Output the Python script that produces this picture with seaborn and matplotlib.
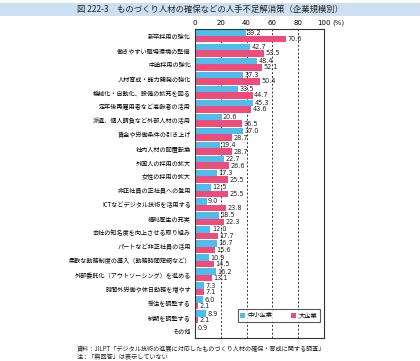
import matplotlib
matplotlib.use("Agg")
import matplotlib.pyplot as plt
import seaborn as sns
import pandas as pd
import numpy as np
from matplotlib.patches import Rectangle, Patch

categories = [
    "新卒採用の強化",
    "働きやすい職場環境の整備",
    "中途採用の強化",
    "人材育成・能力開発の強化",
    "機械化・自動化、設備の拡充を図る",
    "定年後再雇用者など高齢者の活用",
    "派遣、個人請負など外部人材の活用",
    "賃金や労働条件の引き上げ",
    "社内人材の配置転換",
    "外国人の採用の拡大",
    "女性の採用の拡大",
    "非正社員の正社員への登用",
    "ICTなどデジタル技術を活用する",
    "福利厚生の充実",
    "会社の知名度を向上させる取り組み",
    "パートなど非正社員の活用",
    "柔軟な勤務制度の導入（勤務時間短縮など）",
    "外部委託化（アウトソーシング）を進める",
    "時間外労働や休日勤務を増やす",
    "受注を調整する",
    "納期を調整する",
    "その他",
]
small = [39.2, 42.7, 48.4, 37.3, 33.5, 45.3, 20.6, 37.0, 19.4, 22.7, 17.3, 12.5,
         9.0, 18.5, 12.0, 16.7, 10.9, 16.2, 7.3, 6.0, 8.9, 0.9]
large = [70.6, 53.5, 52.1, 50.4, 44.7, 43.6, 36.5, 28.7, 28.7, 26.6, 25.5, 25.5,
         23.8, 22.3, 17.7, 15.6, 14.5, 13.1, 7.1, 2.1, 2.1, np.nan]
series = ["中小企業", "大企業"]
ticks = [0, 20, 40, 60, 80, 100]

df = pd.DataFrame({
    "cat": categories * 2,
    "val": small + large,
    "size": [series[0]] * len(categories) + [series[1]] * len(categories),
})

plt.rcParams['font.family'] = ['Noto Sans CJK JP', 'DejaVu Sans']
fig = plt.figure(figsize=(4.2, 3.61), dpi=100)
ax = fig.add_axes([195 / 420, 1 - 338 / 361, 129 / 420, 309 / 361])

blue = "#4dbde9"
pink = "#ef4b7b"
sns.barplot(data=df, y="cat", x="val", hue="size", order=categories,
            hue_order=series, palette=[blue, pink], width=0.92,
            orient="h", ax=ax, saturation=1, legend=False)

for cont in ax.containers:
    for bar in cont:
        if bar is None:
            continue
        w = bar.get_width()
        if np.isnan(w):
            continue
        ax.annotate(f"{w:.1f}", (w, bar.get_y() + bar.get_height() / 2),
                    xytext=(1, 0), textcoords="offset points",
                    ha="left", va="center", fontsize=4.7, color="#222222",
                    family="DejaVu Sans")

ax.set_xlim(0, 100)
ax.set_xticks(ticks)
ax.set_xticklabels([str(t) for t in ticks])
ax.xaxis.tick_top()
ax.tick_params(axis="x", length=0, labelsize=5, pad=2.5)
ax.tick_params(axis="y", length=0, labelsize=4.4, pad=3)
ax.set_xlabel("")
ax.set_ylabel("")
for lbl in ax.get_xticklabels():
    lbl.set_family("DejaVu Sans")
ax.set_ylim(len(categories) - 0.5, -0.5)
for t in ticks[1:-1]:
    ax.axvline(t, color="#333333", lw=0.7, ls=(0, (2, 2)), zorder=0)
for s in ax.spines.values():
    s.set_color("#333333")
    s.set_linewidth(0.8)

fig.text(332 / 420, 1 - 23 / 361, "(%)", ha="left", va="center",
         fontsize=5, family="DejaVu Sans", color="#222222")

handles = [Patch(facecolor=blue, label=series[0]), Patch(facecolor=pink, label=series[1])]
leg = ax.legend(handles=handles, loc="lower right", bbox_to_anchor=(0.969, 0.052),
                borderaxespad=0, ncol=2, fontsize=4.5, frameon=True, fancybox=False,
                edgecolor="#333333", handlelength=0.8, handleheight=0.8,
                columnspacing=3.0, handletextpad=0.4, borderpad=0.4)
leg.get_frame().set_linewidth(0.8)

fig.patches.append(Rectangle((0, 1 - 16 / 361), 1, 13 / 361, transform=fig.transFigure,
                             facecolor="#cde0f1", edgecolor="none", zorder=0))
fig.text(0.5, 1 - 9.5 / 361, "図 222-3　ものづくり人材の確保などの人手不足解消策（企業規模別）",
         ha="center", va="center", fontsize=6.0, color="#222222")
fig.text(77 / 420, 1 - 349 / 361, "資料：JILPT「デジタル技術の進展に対応したものづくり人材の確保・育成に関する調査」",
         ha="left", va="center", fontsize=4.4, color="#222222")
fig.text(77 / 420, 1 - 357 / 361, "注：「無回答」は表示していない",
         ha="left", va="center", fontsize=4.4, color="#222222")

fig.savefig("out.png", dpi=100)
